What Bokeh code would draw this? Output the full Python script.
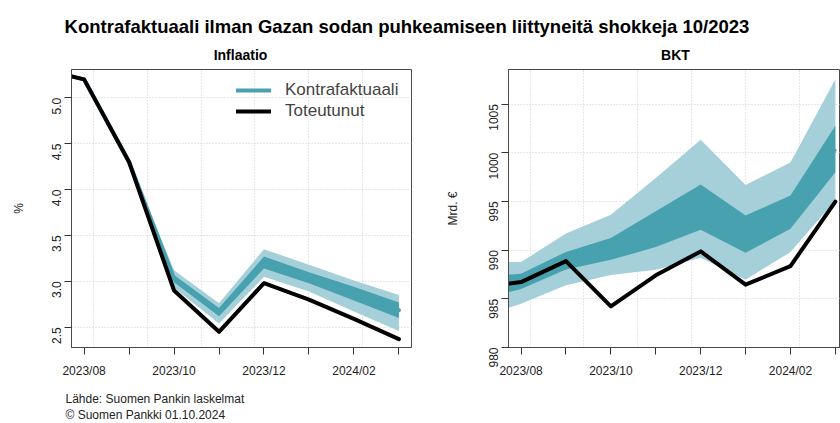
import math
from bokeh.plotting import figure
from bokeh.layouts import column, row
from bokeh.models import Range1d, FixedTicker, Legend, LegendItem, PrintfTickFormatter
from bokeh.core.properties import value
from bokeh.embed import file_html
from bokeh.resources import INLINE

# ---------------- data ----------------
months = ["2023/07", "2023/08", "2023/09", "2023/10", "2023/11",
          "2023/12", "2024/01", "2024/02", "2024/03"]
major_months = ["2023/08", "2023/10", "2023/12", "2024/02"]
minor_months = ["2023/09", "2023/11", "2024/01", "2024/03"]

# Inflaatio (%)
infl_actual = [5.32, 5.20, 4.30, 2.90, 2.45, 2.98, 2.80, 2.59, 2.37]
infl_med    = [5.32, 5.20, 4.30, 3.03, 2.665, 3.205, 3.04, 2.865, 2.685]
infl_in_lo  = [5.32, 5.20, 4.30, 2.99, 2.62, 3.14, 2.98, 2.79, 2.60]
infl_in_hi  = [5.32, 5.20, 4.30, 3.07, 2.71, 3.27, 3.10, 2.94, 2.77]
infl_out_lo = [5.32, 5.20, 4.30, 2.93, 2.54, 3.05, 2.89, 2.67, 2.46]
infl_out_hi = [5.32, 5.20, 4.31, 3.12, 2.76, 3.35, 3.18, 3.01, 2.85]

# BKT (Mrd. €)
bkt_actual = [986.10, 986.72, 988.87, 984.23, 987.41, 989.87, 986.45, 988.36, 994.99]
bkt_med    = [986.0, 986.8, 988.9, 990.1, 992.2, 994.4, 991.6, 993.9, 1000.4]
bkt_in_lo  = [984.84, 986.0, 988.0, 989.0, 990.31, 992.09, 989.73, 992.2, 997.99]
bkt_in_hi  = [987.19, 987.58, 989.82, 991.25, 994.0, 996.73, 993.55, 995.62, 1002.78]
bkt_out_lo = [982.96, 984.5, 986.4, 987.45, 987.99, 989.22, 986.97, 989.80, 995.1]
bkt_out_hi = [988.77, 988.77, 991.70, 993.63, 997.42, 1001.34, 996.70, 999.0, 1007.56]

infl_yticks = [2.5, 3.0, 3.5, 4.0, 4.5, 5.0]
bkt_yticks = [980, 985, 990, 995, 1000, 1005]
grid_years = [2023.6, 2023.7, 2023.8, 2023.9, 2024.0, 2024.1]

title_text = "Kontrafaktuaali ilman Gazan sodan puhkeamiseen liittyneitä shokkeja 10/2023"
source_text = "Lähde: Suomen Pankin laskelmat"
copyright_text = "© Suomen Pankki 01.10.2024"

# ---------------- helpers ----------------
FONT = "Liberation Sans"
DARK = "#48a1af"
LIGHT = "#a5cfd9"
FRAME = "#4a4a4a"

xpos = list(range(len(months)))            # month index, 2023/07 = 0
def mpos(m):
    return months.index(m)
def year_to_pos(yv):
    return (yv - 2023.5) * 12.0

def style_axes(p):
    for ax in (p.xaxis + p.yaxis):
        ax.axis_line_color = FRAME
        ax.major_tick_line_color = "#333333"
        ax.minor_tick_line_color = "#333333"
        ax.major_label_text_font = FONT
        ax.major_label_text_font_size = "12px"
        ax.major_label_text_color = "#222222"
        ax.axis_label_text_font = FONT
        ax.axis_label_text_font_size = "12px"
        ax.axis_label_text_font_style = "normal"
        ax.axis_label_text_color = "#222222"
    p.xaxis.ticker = FixedTicker(ticks=[mpos(m) for m in major_months],
                                 minor_ticks=[mpos(m) for m in minor_months])
    p.xaxis.major_label_overrides = {mpos(m): m for m in major_months}
    p.xaxis.major_tick_out = 7
    p.xaxis.major_tick_in = 0
    p.xaxis.minor_tick_out = 7
    p.xaxis.minor_tick_in = 0
    p.xaxis.major_label_standoff = 9
    p.yaxis.major_tick_out = 7
    p.yaxis.major_tick_in = 0
    p.yaxis.minor_tick_out = 0
    p.yaxis.minor_tick_in = 0
    p.yaxis.major_label_orientation = math.pi / 2
    p.yaxis.major_label_standoff = 8
    p.xgrid.ticker = FixedTicker(ticks=[year_to_pos(g) for g in grid_years])
    for g in (p.xgrid + p.ygrid):
        g.grid_line_color = "#cfcfcf"
        g.grid_line_dash = "1 2"
        g.grid_line_width = 1
    p.outline_line_color = FRAME
    p.outline_line_width = 1
    p.background_fill_color = "white"
    p.border_fill_color = "white"


def panel(width, bl, br, xr, yr, yticks, fmt, ylabel, lo2, hi2, lo1, hi1, med, act, med_cap):
    p = figure(width=width, height=320, x_range=Range1d(*xr), y_range=Range1d(*yr),
               min_border_left=bl, min_border_right=br, min_border_top=1, min_border_bottom=41,
               toolbar_location=None, output_backend="svg")
    p.yaxis.ticker = FixedTicker(ticks=yticks)
    p.yaxis.formatter = PrintfTickFormatter(format=fmt)
    p.ygrid.ticker = FixedTicker(ticks=yticks)
    p.yaxis.axis_label = ylabel
    style_axes(p)
    p.varea(x=xpos, y1=lo2, y2=hi2, fill_color=LIGHT, fill_alpha=1.0)
    p.varea(x=xpos, y1=lo1, y2=hi1, fill_color=DARK, fill_alpha=1.0)
    r_med = p.line(x=xpos, y=med, line_color=DARK, line_width=4, line_join="round", line_cap=med_cap)
    r_act = p.line(x=xpos, y=act, line_color="black", line_width=4, line_join="round", line_cap="round")
    return p, r_med, r_act

x_start = 0.72
p1, m1, a1 = panel(430, 71, 19, (x_start, 8.28), (2.279, 5.308), infl_yticks, "%.1f", "%",
                   infl_out_lo, infl_out_hi, infl_in_lo, infl_in_hi, infl_med, infl_actual, "round")
p1.yaxis.axis_label_standoff = 19

legend = Legend(items=[LegendItem(label="Kontrafaktuaali", renderers=[m1]),
                       LegendItem(label="Toteutunut", renderers=[a1])],
                location=(165, 226), padding=0, margin=0, spacing=1,
                glyph_width=35, glyph_height=20, label_height=20, label_standoff=14,
                label_text_font=FONT, label_text_font_size="17px",
                background_fill_alpha=0, border_line_alpha=0)
p1.add_layout(legend)

p2, m2, a2 = panel(410, 78, 0, (x_start, x_start + 332 / 44.9), (980.0, 1008.55), bkt_yticks, "%d", "Mrd. €",
                   bkt_out_lo, bkt_out_hi, bkt_in_lo, bkt_in_hi, bkt_med, bkt_actual, "butt")
p2.yaxis.axis_label_standoff = 22

# ---------------- title / footer strips ----------------
def strip(h):
    f = figure(width=840, height=h, x_range=Range1d(0, 840), y_range=Range1d(0, h),
               x_axis_type=None, y_axis_type=None, min_border=0,
               toolbar_location=None, output_backend="svg")
    f.grid.visible = False
    f.outline_line_color = None
    f.background_fill_color = "white"
    f.border_fill_color = "white"
    return f

top = strip(68)
top.text(x=[406.5], y=[42], text=[title_text], text_font=value(FONT), text_font_style="bold",
         text_font_size="18.5px", text_align="center", text_baseline="alphabetic", text_color="black")
top.text(x=[240, 675], y=[14, 14], text=["Inflaatio", "BKT"], text_font=value(FONT),
         text_font_style="bold", text_font_size="14px", text_align="center",
         text_baseline="alphabetic", text_color="black")

foot = strip(35)
foot.text(x=[65, 65], y=[25, 9], text=[source_text, copyright_text], text_font=value(FONT),
          text_font_size="12px", text_align="left", text_baseline="middle", text_color="#222222")

layout = column(top, row(p1, p2), foot)
open("out.html", "w").write(file_html(layout, INLINE))
